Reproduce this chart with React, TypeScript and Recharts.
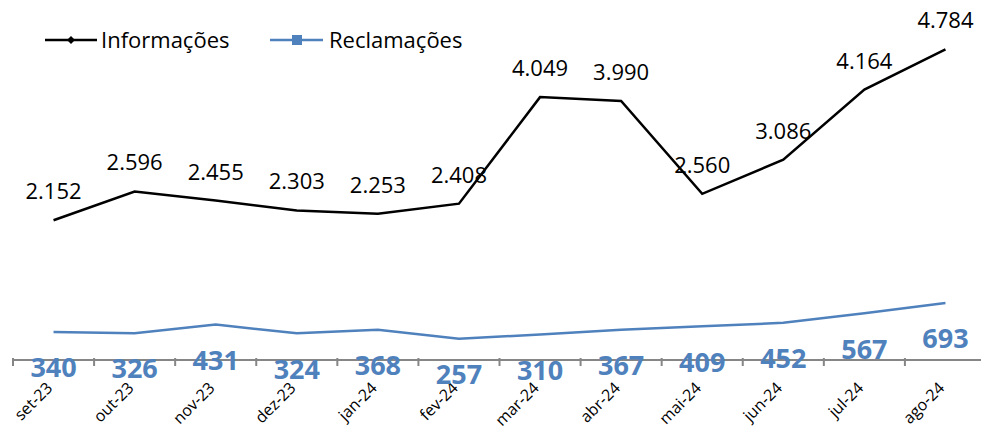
import React from "react";
import { LineChart, Line, XAxis, YAxis, Legend, LabelList } from "recharts";

const months = ["set-23", "out-23", "nov-23", "dez-23", "jan-24", "fev-24", "mar-24", "abr-24", "mai-24", "jun-24", "jul-24", "ago-24"];
const informacoes = [2152, 2596, 2455, 2303, 2253, 2408, 4049, 3990, 2560, 3086, 4164, 4784];
const reclamacoes = [340, 326, 431, 324, 368, 257, 310, 367, 409, 452, 567, 693];

const data = months.map((m, i) => ({ month: m, info: informacoes[i], recl: reclamacoes[i] }));

const FONT = "'Open Sans', 'Noto Sans', sans-serif";
const BLUE = "#4F81BD";
const AXIS = "#868686";

// pt-BR thousands separator
const fmt = (v: any) => String(v).replace(/\B(?=(\d{3})+(?!\d))/g, ".");

function MonthTick(props: any) {
    const { x, y, payload } = props;
    const half = payload && payload.offset ? payload.offset : 40.5;
    const tx = x;
    const ty = y + 29;
    return (
        <g>
            <line x1={x - half} x2={x - half} y1={y - 2} y2={y + 6} stroke={AXIS} strokeWidth={2} />
            <text
                x={tx}
                y={ty}
                transform={`rotate(-45, ${tx}, ${ty})`}
                textAnchor="end"
                fontSize={16}
                fontFamily={FONT}
                fill="#000"
            >
                {payload.value}
            </text>
        </g>
    );
}

function LegendContent() {
    return (
        <svg width={480} height={30} style={{ display: "block" }}>
            <line x1={5} x2={57} y1={15} y2={15} stroke="#000" strokeWidth={2.5} />
            <path d="M31 11 L35 15 L31 19 L27 15 Z" fill="#000" />
            <text x={61} y={15} dy="0.35em" fontSize={22} fontFamily={FONT} fill="#000">Informações</text>
            <line x1={230} x2={283} y1={15} y2={15} stroke={BLUE} strokeWidth={2.5} />
            <rect x={252} y={10} width={10} height={10} fill={BLUE} />
            <text x={289} y={15} dy="0.35em" fontSize={22} fontFamily={FONT} fill="#000">Reclamações</text>
        </svg>
    );
}

export default function App() {
    return (
        <div style={{ position: "absolute", left: 0, top: 0, width: 981, height: 429, overflow: "hidden", background: "#fff" }}>
            <LineChart width={990} height={429} data={data} margin={{ top: 0, right: 4, left: 13, bottom: 9 }}>
                <XAxis
                    dataKey="month"
                    scale="band"
                    height={60}
                    axisLine={{ stroke: AXIS, strokeWidth: 2 }}
                    tickLine={false}
                    tickSize={0}
                    tickMargin={0}
                    interval={0}
                    tick={<MonthTick />}
                />
                <YAxis yAxisId="left" hide domain={[0, 5545]} />
                <YAxis yAxisId="right" orientation="right" hide domain={[0, 4375]} />
                <Legend
                    layout="horizontal"
                    verticalAlign="middle"
                    align="center"
                    content={<LegendContent />}
                    wrapperStyle={{ top: 25, left: 40, width: 480, height: 30 }}
                />
                <Line
                    yAxisId="left"
                    dataKey="info"
                    name="Informações"
                    stroke="#000"
                    strokeWidth={2.5}
                    dot={false}
                    isAnimationActive={false}
                >
                    <LabelList dataKey="info" position="top" offset={21} formatter={fmt} fill="#000" fontSize={22} fontFamily={FONT} />
                </Line>
                <Line
                    yAxisId="right"
                    dataKey="recl"
                    name="Reclamações"
                    stroke={BLUE}
                    strokeWidth={2.5}
                    dot={false}
                    isAnimationActive={false}
                >
                    <LabelList dataKey="recl" position="bottom" offset={26} fill={BLUE} fontSize={27} fontWeight="bold" fontFamily={FONT} />
                </Line>
            </LineChart>
        </div>
    );
}
